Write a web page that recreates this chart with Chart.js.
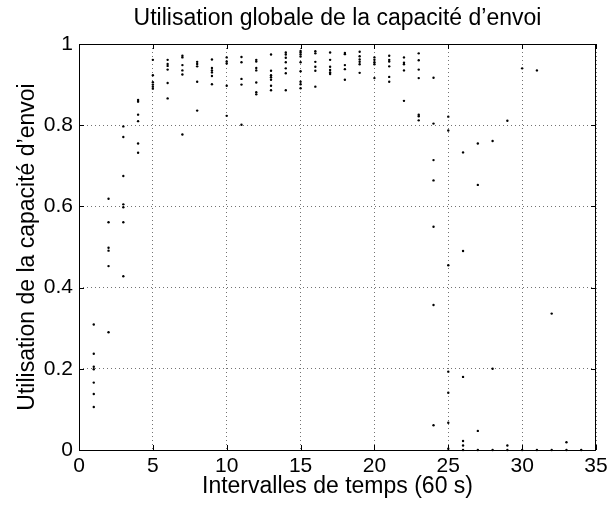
<!DOCTYPE html>
<html><head><meta charset="utf-8">
<script src="https://cdn.jsdelivr.net/npm/chart.js@4"></script>
<style>html,body{margin:0;padding:0;background:#fff}canvas{display:block}</style>
</head><body>
<canvas id="c" width="609" height="505"></canvas>
<script>
const chartTitle = 'Utilisation globale de la capacité d’envoi';
const xAxisTitle = 'Intervalles de temps (60 s)';
const yAxisTitle = 'Utilisation de la capacité d’envoi';

const intervals = [1,2,3,4,5,6,7,8,9,10,11,12,13,14,15,16,17,18,19,20,21,22,23,24,25,26,27,28,29,30,31,32,33,34];
const utilisation = [
  [0.309,0.237,0.205,0.199,0.166,0.138,0.106],
  [0.619,0.561,0.498,0.491,0.453,0.290],
  [0.797,0.771,0.675,0.605,0.598,0.561,0.428],
  [0.862,0.858,0.826,0.810,0.755,0.732],
  [0.961,0.923,0.906,0.900,0.895,0.890],
  [0.961,0.951,0.946,0.937,0.904,0.866],
  [0.971,0.967,0.948,0.935,0.925,0.777],
  [0.956,0.951,0.945,0.907,0.836],
  [0.962,0.941,0.935,0.930,0.921,0.901],
  [0.967,0.957,0.952,0.897,0.823],
  [0.968,0.955,0.914,0.900,0.801],
  [0.961,0.957,0.941,0.935,0.905,0.881,0.876],
  [0.974,0.934,0.923,0.918,0.912,0.897,0.886],
  [0.979,0.974,0.966,0.955,0.940,0.928,0.886],
  [0.983,0.979,0.974,0.969,0.955,0.933,0.907,0.901,0.891],
  [0.982,0.977,0.956,0.944,0.934,0.895],
  [0.979,0.961,0.944,0.936,0.930,0.926],
  [0.978,0.975,0.948,0.938,0.912],
  [0.981,0.970,0.962,0.956,0.950,0.929],
  [0.967,0.961,0.955,0.950,0.916],
  [0.971,0.961,0.957,0.945,0.919,0.907],
  [0.967,0.954,0.950,0.935,0.860],
  [0.977,0.960,0.937,0.916,0.826,0.822,0.812],
  [0.917,0.804,0.714,0.664,0.550,0.357,0.061],
  [0.821,0.787,0.455,0.193,0.141,0.067,0.003],
  [0.733,0.490,0.180,0.022,0.011,0],
  [0.755,0.653,0.047,0],
  [0.761,0.200,0],
  [0.811,0.011,0],
  [0.940,0],
  [0.935,0],
  [0.336,0],
  [0.019,0],
  [0]
];
const xTickValues = [0,5,10,15,20,25,30,35];
const xTickLabels = ['0','5','10','15','20','25','30','35'];
const yTickValues = [0,0.2,0.4,0.6,0.8,1];
const yTickLabels = ['0','0.2','0.4','0.6','0.8','1'];

const points = [];
intervals.forEach((x, i) => utilisation[i].forEach(v => points.push({x: x, y: v})));

const FONT = "'Liberation Sans', Arial, Helvetica, sans-serif";
Chart.defaults.color = '#000';
Chart.defaults.font.family = FONT;

const framePlugin = {
  id: 'frame',
  afterDatasetsDraw(chart) {
    const {ctx, chartArea: a, scales: {x, y}} = chart;
    const L = 5;
    ctx.save();
    ctx.strokeStyle = '#000';
    ctx.lineWidth = 1;
    ctx.setLineDash([]);
    ctx.beginPath();
    x.ticks.forEach(t => {
      const px = Math.round(x.getPixelForValue(t.value)) + 0.5;
      ctx.moveTo(px, a.bottom); ctx.lineTo(px, a.bottom - L);
      ctx.moveTo(px, a.top); ctx.lineTo(px, a.top + L);
    });
    y.ticks.forEach(t => {
      const py = Math.round(y.getPixelForValue(t.value)) + 0.5;
      ctx.moveTo(a.left, py); ctx.lineTo(a.left + L, py);
      ctx.moveTo(a.right, py); ctx.lineTo(a.right - L, py);
    });
    ctx.stroke();
    ctx.strokeRect(Math.round(a.left) + 0.5, Math.round(a.top) + 0.5,
                   Math.round(a.right) - Math.round(a.left) - 1, Math.round(a.bottom) - Math.round(a.top));
    ctx.restore();
  }
};

new Chart(document.getElementById('c'), {
  type: 'scatter',
  data: {
    datasets: [{
      data: points,
      backgroundColor: '#000',
      borderWidth: 0,
      pointRadius: 1.2,
      pointHoverRadius: 1.2,
      clip: false
    }]
  },
  options: {
    responsive: false,
    animation: false,
    devicePixelRatio: 1,
    layout: {padding: {left: 0, right: 13, top: 0, bottom: 0}},
    plugins: {
      legend: {display: false},
      tooltip: {enabled: false},
      title: {
        display: true,
        text: chartTitle,
        fullSize: false,
        font: {size: 23, weight: 'normal', family: FONT, lineHeight: 1.2},
        padding: {top: 5, bottom: 11.4},
        color: '#000'
      }
    },
    scales: {
      x: {
        type: 'linear',
        min: 0, max: 35,
        afterBuildTicks: s => { s.ticks = xTickValues.map(v => ({value: v})); },
        afterFit: s => { s.height = 55; s.paddingLeft = 0; s.paddingRight = 0; },
        ticks: {
          callback: (v, i) => xTickLabels[i],
          font: {size: 21, family: FONT, lineHeight: 1.2},
          padding: 4, maxRotation: 0, autoSkip: false, color: '#000'
        },
        grid: {color: 'rgba(0,0,0,0.55)', lineWidth: 1, drawTicks: false, borderDash: [1,3]},
        border: {display: false, dash: [1,3]},
        title: {
          display: true, text: xAxisTitle, color: '#000',
          font: {size: 23, family: FONT, lineHeight: 1.2},
          padding: {top: 0, bottom: 5}
        }
      },
      y: {
        type: 'linear',
        min: 0, max: 1,
        afterBuildTicks: s => { s.ticks = yTickValues.map(v => ({value: v})); },
        afterFit: s => { s.width = 79; s.paddingTop = 0; s.paddingBottom = 0; },
        ticks: {
          callback: (v, i) => yTickLabels[i],
          font: {size: 21, family: FONT, lineHeight: 1.2},
          padding: 6, autoSkip: false, color: '#000'
        },
        grid: {color: 'rgba(0,0,0,0.55)', lineWidth: 1, drawTicks: false, borderDash: [1,3]},
        border: {display: false, dash: [1,3]},
        title: {
          display: true, text: yAxisTitle, color: '#000',
          font: {size: 23, family: FONT, lineHeight: 1.2},
          padding: {top: 13.5, bottom: 0}
        }
      }
    }
  },
  plugins: [framePlugin]
});
</script>
</body></html>
